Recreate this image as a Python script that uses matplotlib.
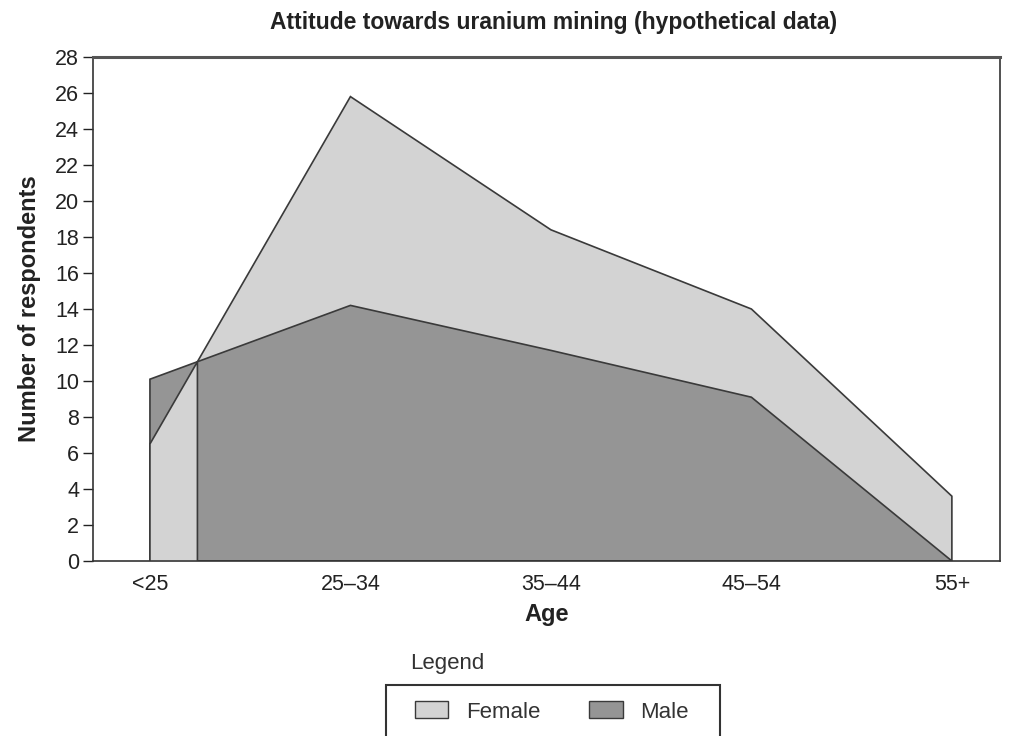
import numpy as np
import matplotlib.pyplot as plt
from matplotlib.patches import Patch, Rectangle

plt.rcParams['font.family'] = ['Liberation Sans', 'DejaVu Sans']

ages = ['<25', '25–34', '35–44', '45–54', '55+']
female = [6.5, 25.8, 18.4, 14.0, 3.6]
male = [10.1, 14.2, 11.7, 9.1, 0.0]

light = '#d3d3d3'
dark = '#959595'
edge = '#3a3a3a'
W, H = 1013, 736

x = np.arange(len(ages))
f = np.array(female)
m = np.array(male)

# where the two lines cross between the first two age groups
d = f - m
t = -d[0] / (d[1] - d[0])
xc = x[0] + t
yc = f[0] + t * (f[1] - f[0])

fig = plt.figure(figsize=(W / 100, H / 100), dpi=100)
ax = fig.add_axes([93 / W, 1 - 561 / H, 907 / W, 504 / H])

ax.fill(np.r_[x[0], x, x[-1]], np.r_[0, f, 0], facecolor=light, edgecolor=edge, lw=1.2, zorder=1)
ax.fill(np.r_[x[0], x, x[-1]], np.r_[0, m, 0], facecolor=dark, edgecolor=edge, lw=1.2, zorder=2)
# female in front on the left of the crossing
ax.fill([x[0], x[0], xc, xc], [0, f[0], yc, 0], facecolor=light, edgecolor=edge, lw=1.2, zorder=3)

ax.set_xlim(-0.284, 4.24)
ax.set_ylim(0, 28)
ax.set_yticks(range(0, 29, 2))
ax.set_xticks(x)
ax.set_xticklabels(ages)
ax.tick_params(axis='x', length=0, pad=9, labelsize=15.5, colors='#222222')
ax.tick_params(axis='y', length=7, width=1, pad=3, labelsize=15.5, colors='#222222', direction='out')
for s in ax.spines.values():
    s.set_color('#333333')
    s.set_linewidth(1.2)
ax.spines['top'].set_linewidth(2.2)
ax.spines['top'].set_color('#555555')

ax.set_title('Attitude towards uranium mining (hypothetical data)', fontsize=16.5,
             fontweight='bold', pad=20, color='#222222', x=0.508)
ax.set_xlabel('Age', fontsize=17, fontweight='bold', labelpad=6, color='#222222')
ax.set_ylabel('Number of respondents', fontsize=17, fontweight='bold', labelpad=10, color='#222222')

fig.text(410 / W, 1 - 664 / H, 'Legend', fontsize=16, va='center', ha='left', color='#333333')
fig.patches.append(Rectangle((386 / W, 1 - 760 / H), 334 / W, 75 / H, transform=fig.transFigure,
                             facecolor='white', edgecolor='#333333', lw=1.5, zorder=0))
handles = [Patch(facecolor=light, edgecolor=edge, label='Female'),
           Patch(facecolor=dark, edgecolor=edge, label='Male')]
leg = fig.legend(handles=handles, loc='center', bbox_to_anchor=(552 / W, 1 - 712 / H),
                 ncol=2, fontsize=16, frameon=False, columnspacing=2.2,
                 handlelength=1.5, handleheight=0.8, handletextpad=0.8)
for txt in leg.get_texts():
    txt.set_color('#333333')

plt.savefig('out.png', dpi=100)
